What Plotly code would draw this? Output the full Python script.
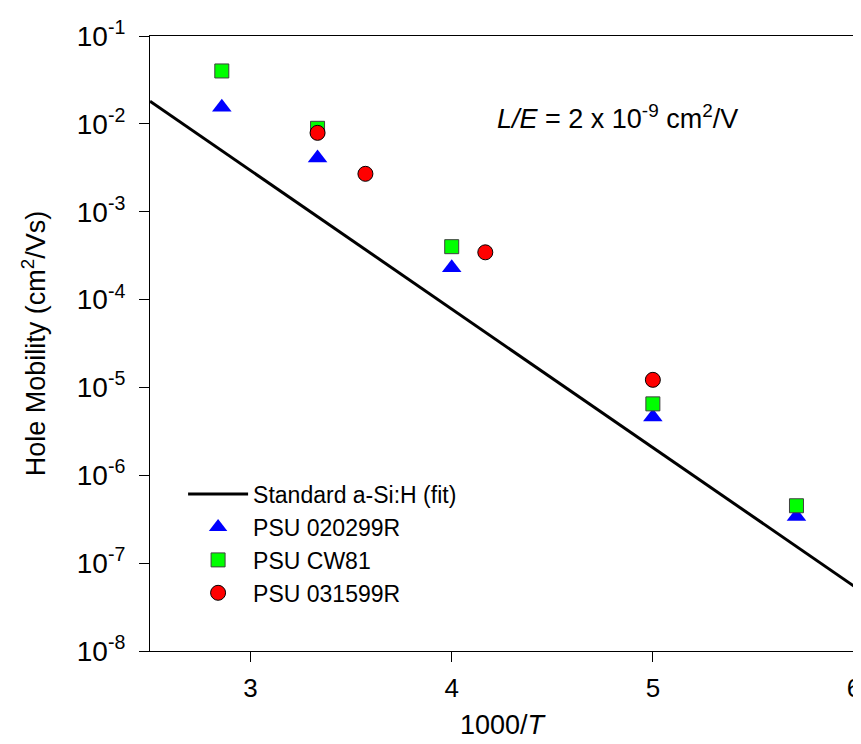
import plotly.graph_objects as go

# fit line for standard a-Si:H (straight on log scale)
fit_x = [2.5, 6.0]
fit_y = [1.81e-2, 5.47e-8]

# PSU 020299R (triangles)
x_020299 = [2.857, 3.333, 4.0, 5.0, 5.714]
y_020299 = [1.55e-2, 4.1e-3, 2.3e-4, 4.6e-6, 3.4e-7]

# PSU CW81 (squares)
x_cw81 = [2.857, 3.333, 4.0, 5.0, 5.714]
y_cw81 = [4.0e-2, 8.9e-3, 4.0e-4, 6.5e-6, 4.5e-7]

# PSU 031599R (circles)
x_031599 = [3.333, 3.571, 4.167, 5.0]
y_031599 = [7.9e-3, 2.7e-3, 3.45e-4, 1.22e-5]

ytick_vals = [1e-8, 1e-7, 1e-6, 1e-5, 1e-4, 1e-3, 1e-2, 1e-1]
ytick_text = ["10<sup>-%d</sup>" % n for n in [8, 7, 6, 5, 4, 3, 2, 1]]
xtick_vals = [3, 4, 5, 6]

fnt = "Arial, Liberation Sans, sans-serif"

fig = go.Figure()
fig.add_trace(go.Scatter(x=fit_x, y=fit_y, mode="lines", name="Standard a-Si:H (fit)",
                         line=dict(color="black", width=3)))
fig.add_trace(go.Scatter(x=x_020299, y=y_020299, mode="markers", name="PSU 020299R",
                         marker=dict(symbol="triangle-up", color="#0000ff", size=17,
                                     line=dict(color="#0000ff", width=0))))
fig.add_trace(go.Scatter(x=x_cw81, y=y_cw81, mode="markers", name="PSU CW81",
                         marker=dict(symbol="square", color="#00ff00", size=14,
                                     line=dict(color="#404040", width=1))))
fig.add_trace(go.Scatter(x=x_031599, y=y_031599, mode="markers", name="PSU 031599R",
                         marker=dict(symbol="circle", color="#ff0000", size=15,
                                     line=dict(color="black", width=1))))

fig.add_annotation(text="<i>L/E</i> = 2 x 10<sup>-9</sup> cm<sup>2</sup>/V",
                   xref="paper", yref="paper", x=0.664, y=0.899,
                   showarrow=False, font=dict(size=27, color="black", family=fnt))

fig.update_layout(
    width=861, height=744,
    margin=dict(l=142, r=8, t=20, b=101),
    plot_bgcolor="white", paper_bgcolor="white",
    font=dict(family=fnt, color="black", size=23),
    showlegend=True,
    legend=dict(x=0.047, y=0.29, xanchor="left", yanchor="top", itemwidth=60,
                bgcolor="rgba(0,0,0,0)", font=dict(size=23), tracegroupgap=0),
)
fig.update_xaxes(range=[2.5, 6], tickvals=xtick_vals, ticks="outside", ticklen=10,
                 tickcolor="black", showline=True, linecolor="black", linewidth=1,
                 mirror=True, showgrid=False, zeroline=False, ticklabelstandoff=4,
                 title=dict(text="1000/<i>T</i>", font=dict(size=27), standoff=12),
                 tickfont=dict(size=26))
fig.update_yaxes(type="log", range=[-8, -1], tickvals=ytick_vals, ticktext=ytick_text,
                 ticks="outside", ticklen=10, tickcolor="black", showline=True,
                 linecolor="black", linewidth=1, mirror=True, showgrid=False,
                 zeroline=False, ticklabelstandoff=8,
                 title=dict(text="Hole Mobility (cm<sup>2</sup>/Vs)", font=dict(size=27), standoff=23),
                 tickfont=dict(size=28))

fig.write_html("out.html")
